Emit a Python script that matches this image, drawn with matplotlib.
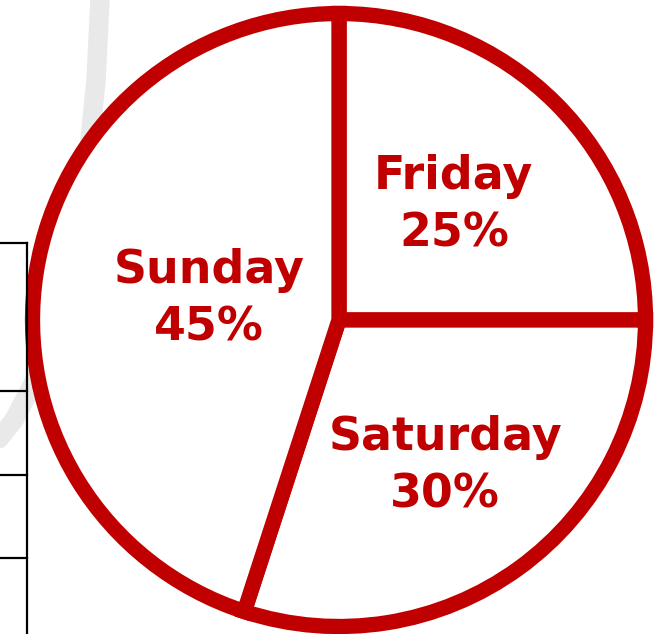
import numpy as np
import matplotlib.pyplot as plt
from matplotlib.lines import Line2D

days = ['Friday', 'Saturday', 'Sunday']
shares = [25, 30, 45]
label_radius = [0.53, 0.59, 0.43]

red = '#C00000'
W, H = 661, 634

fig = plt.figure(figsize=(W / 100, H / 100), dpi=100)
fig.patch.set_facecolor('white')

# faint background swirl and table edge on the left
swirl_x = [100, 96, 88, 76, 60, 40, 14, -10]
swirl_y = [0, 80, 160, 240, 310, 370, 420, 450]
fig.add_artist(Line2D([x / W for x in swirl_x], [1 - y / H for y in swirl_y],
                      color='#e4e4e4', lw=14, alpha=0.8, solid_capstyle='round', zorder=0))
table_rows = [243, 391, 475, 558]
fig.add_artist(Line2D([27 / W, 27 / W], [1 - 243 / H, 0], color='black', lw=1.6, zorder=1))
for ry in table_rows:
    fig.add_artist(Line2D([0, 27 / W], [1 - ry / H, 1 - ry / H], color='black', lw=1.6, zorder=1))

R = 306.5
cx, cy = 339, 320
ax = fig.add_axes([(cx - R) / W, (H - cy - R) / H, 2 * R / W, 2 * R / H])
ax.set_facecolor('none')
wedges, _ = ax.pie(shares, startangle=90, counterclock=False, radius=1,
                   colors=['white'] * 3,
                   wedgeprops=dict(edgecolor=red, linewidth=11, joinstyle='miter'))
ax.set_xlim(-1, 1)
ax.set_ylim(-1, 1)
ax.set_aspect('auto')
ax.axis('off')

for w, d, s, r in zip(wedges, days, shares, label_radius):
    mid = np.deg2rad((w.theta1 + w.theta2) / 2)
    ax.text(r * np.cos(mid), r * np.sin(mid), f'{d}\n{s}%', ha='center', va='center',
            color=red, fontsize=33, fontweight='bold', family='DejaVu Sans', linespacing=1.35)

fig.savefig('out.png', dpi=100)
